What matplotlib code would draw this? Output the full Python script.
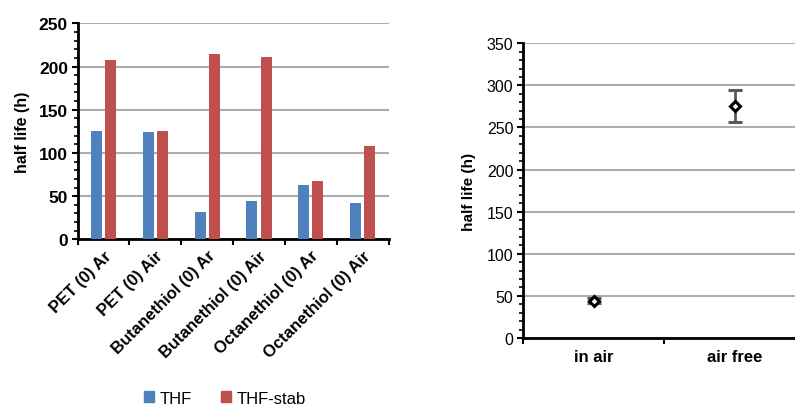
import numpy as np
import matplotlib.pyplot as plt
from matplotlib.ticker import MultipleLocator
from matplotlib.patches import Patch

plt.rcParams['font.family'] = ['Liberation Sans', 'DejaVu Sans']

# half-life per sample, two solvents
samples = ['PET (0) Ar', 'PET (0) Air', 'Butanethiol (0) Ar', 'Butanethiol (0) Air',
           'Octanethiol (0) Ar', 'Octanethiol (0) Air']
thf = [125, 124, 32, 44, 63, 42]
thf_stab = [208, 125, 214, 211, 67, 108]

# half-life in air vs air free, with error
conditions = ['in air', 'air free']
half_life = [44, 275]
half_life_err = [3, 19]

blue = '#4F81BD'
red = '#C0504D'
grid_col = '#ADADAD'

fig = plt.figure(figsize=(7.95, 4.06), dpi=100)

# ---- bar chart ----
ax1 = fig.add_axes([0.0977, 0.408, 0.391, 0.532])
x = np.arange(len(samples))
w = 0.21
ax1.bar(x - 0.137, thf, w, color=blue, zorder=3)
ax1.bar(x + 0.137, thf_stab, w, color=red, zorder=3)
ax1.set_xlim(-0.5, len(samples) - 0.5)
ax1.set_ylim(0, 250)
ax1.yaxis.set_major_locator(MultipleLocator(50))
ax1.yaxis.set_minor_locator(MultipleLocator(10))
ax1.set_xticks(np.arange(-0.5, len(samples), 1.0))
ax1.set_xticklabels([])
ax1.set_xticks(x, minor=True)
ax1.set_xticklabels(samples, minor=True, rotation=45, ha='right',
                    rotation_mode='anchor', fontsize=12, fontweight='bold')
ax1.tick_params(axis='x', which='minor', length=0, pad=6)
ax1.tick_params(axis='x', which='major', length=4, width=1.5, direction='out')
ax1.tick_params(axis='y', which='major', length=4, width=1.5, labelsize=12.5, pad=3)
ax1.tick_params(axis='y', which='minor', length=3, width=1.2)
for lab in ax1.get_yticklabels():
    lab.set_fontweight('bold')
ax1.set_ylabel('half life (h)', fontsize=11.5, fontweight='bold', labelpad=6)
ax1.yaxis.grid(True, color=grid_col, linewidth=1.5, zorder=0)
for s in ['top', 'right']:
    ax1.spines[s].set_visible(False)
for s in ['left', 'bottom']:
    ax1.spines[s].set_linewidth(2)

handles = [Patch(color=blue, label='THF'), Patch(color=red, label='THF-stab')]
fig.legend(handles=handles, loc='center', bbox_to_anchor=(0.283, 0.017), ncol=2,
           frameon=False, fontsize=12, handlelength=0.6, handleheight=0.6,
           handletextpad=0.3, columnspacing=1.8)

# ---- point chart ----
ax2 = fig.add_axes([0.658, 0.165, 0.355, 0.726])
xp = np.arange(1, len(conditions) + 1)
ax2.errorbar(xp, half_life, yerr=half_life_err, fmt='D', color='#595959',
             ecolor='#595959', elinewidth=2, capsize=5, capthick=2,
             mfc='white', mec='black', mew=2.2, ms=5.5, zorder=3)
ax2.set_xlim(0.5, len(conditions) + 0.5)
ax2.set_ylim(0, 350)
ax2.yaxis.set_major_locator(MultipleLocator(50))
ax2.yaxis.set_minor_locator(MultipleLocator(10))
ax2.set_xticks(np.arange(0.5, len(conditions) + 1, 1.0))
ax2.set_xticklabels([])
ax2.set_xticks(xp, minor=True)
ax2.set_xticklabels(conditions, minor=True, fontsize=12, fontweight='bold')
ax2.tick_params(axis='x', which='minor', length=0, pad=8)
ax2.tick_params(axis='x', which='major', length=4, width=1.5, direction='out')
ax2.tick_params(axis='y', which='major', length=4, width=1.5, labelsize=11.5, pad=3)
ax2.tick_params(axis='y', which='minor', length=3, width=1.2)
ax2.set_ylabel('half life (h)', fontsize=11, fontweight='bold', labelpad=8)
ax2.yaxis.grid(True, color=grid_col, linewidth=1.5, zorder=0)
for s in ['top', 'right']:
    ax2.spines[s].set_visible(False)
for s in ['left', 'bottom']:
    ax2.spines[s].set_linewidth(2)

fig.savefig('out.png', dpi=100)
